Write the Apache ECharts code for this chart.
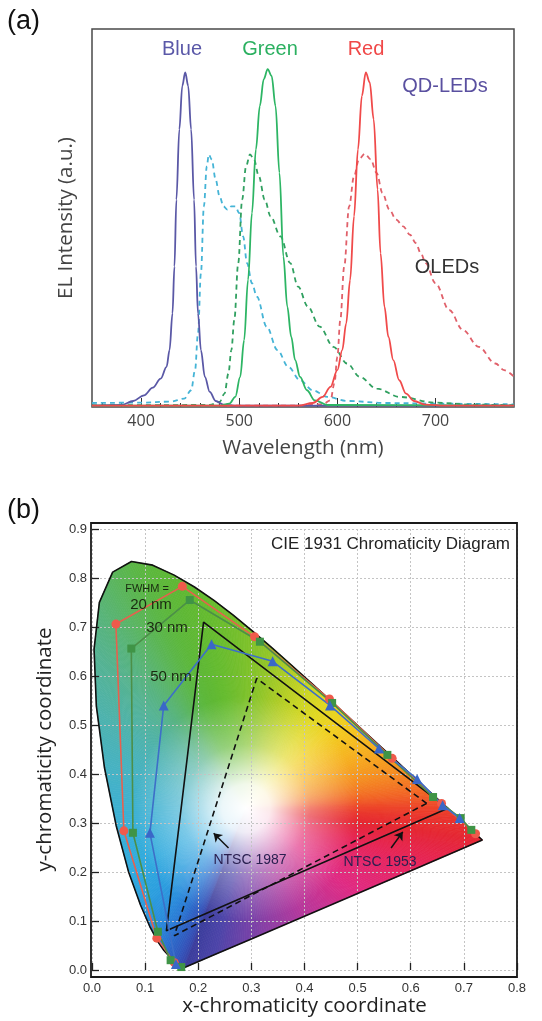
<!DOCTYPE html>
<html>
<head>
<meta charset="utf-8">
<script src="https://cdn.jsdelivr.net/npm/echarts@6/dist/echarts.min.js"></script>
<style>
  html, body { margin: 0; padding: 0; background: #fff; }
  #chart { width: 542px; height: 1021px; }
</style>
</head>
<body>
<div id="chart"></div>
<script>
// (a) EL spectra: [wavelength (nm), intensity (a.u.)]
const qdBlue = [[350,0.004],[380,0.006],[392,0.018],[403,0.035],[412,0.058],[420,0.085],[426,0.12],[429,0.17],[432,0.28],[434,0.42],[436,0.62],[439,0.83],[442,0.96],[445,1.0],[448,0.96],[451,0.83],[454,0.62],[456,0.42],[458,0.28],[461,0.17],[465,0.09],[470,0.045],[476,0.018],[484,0.007],[495,0.004],[780,0.004]];
const qdGreen = [[350,0.004],[480,0.004],[490,0.01],[496,0.03],[501,0.09],[505,0.2],[509,0.38],[513,0.58],[517,0.77],[521,0.9],[525,0.98],[529,1.01],[533,0.99],[537,0.9],[541,0.7],[545,0.45],[549,0.3],[553,0.21],[557,0.14],[562,0.09],[569,0.05],[577,0.02],[590,0.006],[780,0.004]];
const qdRed = [[350,0.004],[560,0.004],[575,0.012],[585,0.03],[593,0.06],[600,0.11],[605,0.17],[609,0.25],[613,0.38],[617,0.57],[621,0.77],[625,0.93],[629,1.0],[633,0.97],[637,0.86],[641,0.65],[644,0.46],[648,0.3],[652,0.21],[657,0.14],[663,0.08],[670,0.04],[678,0.018],[690,0.007],[710,0.004],[780,0.004]];
const oledBlue = [[350,0.012],[400,0.013],[430,0.016],[444,0.025],[451,0.05],[455,0.11],[458,0.22],[461,0.4],[464,0.6],[467,0.72],[469,0.755],[472,0.74],[476,0.68],[480,0.63],[484,0.6],[488,0.59],[492,0.6],[496,0.6],[500,0.58],[504,0.51],[508,0.43],[513,0.37],[518,0.33],[528,0.24],[539,0.17],[550,0.12],[562,0.08],[575,0.05],[590,0.03],[610,0.018],[650,0.012],[700,0.01],[780,0.008]];
const oledGreen = [[350,0.005],[470,0.006],[480,0.015],[485,0.04],[489,0.1],[492,0.17],[495,0.26],[499,0.43],[503,0.62],[507,0.72],[511,0.755],[515,0.74],[520,0.69],[526,0.62],[532,0.57],[542,0.51],[552,0.43],[560,0.36],[570,0.3],[582,0.24],[596,0.18],[610,0.13],[623,0.09],[640,0.055],[664,0.03],[700,0.013],[740,0.007],[780,0.005]];
const oledRed = [[350,0.004],[560,0.004],[585,0.008],[593,0.02],[597,0.07],[600,0.15],[603,0.26],[607,0.42],[612,0.6],[617,0.69],[622,0.74],[628,0.757],[634,0.74],[640,0.7],[646,0.64],[653,0.59],[660,0.56],[667,0.54],[674,0.515],[680,0.49],[685,0.46],[690,0.43],[700,0.37],[714,0.29],[728,0.23],[744,0.18],[761,0.13],[770,0.11],[780,0.09]];
const wavelengthLabels = [400, 500, 600, 700];
const wavelengthTicks = [360, 380, 420, 440, 460, 480, 520, 540, 560, 580, 620, 640, 660, 680, 720, 740, 760];

// (b) CIE 1931 chromaticity: [x, y]
const spectralLocus = [[0.1741,0.0050],[0.1714,0.0051],[0.1644,0.0109],[0.1566,0.0177],[0.1440,0.0297],[0.1355,0.0399],[0.1241,0.0578],[0.1096,0.0868],[0.0913,0.1327],[0.0687,0.2007],[0.0454,0.2950],[0.0235,0.4127],[0.0082,0.5384],[0.0039,0.6548],[0.0139,0.7502],[0.0389,0.8120],[0.0743,0.8338],[0.1142,0.8262],[0.1547,0.8059],[0.1929,0.7816],[0.2296,0.7543],[0.2658,0.7243],[0.3016,0.6923],[0.3373,0.6589],[0.3731,0.6245],[0.4087,0.5896],[0.4441,0.5547],[0.4788,0.5202],[0.5125,0.4866],[0.5448,0.4544],[0.5752,0.4242],[0.6029,0.3965],[0.6270,0.3725],[0.6482,0.3514],[0.6658,0.3340],[0.6915,0.3083],[0.7190,0.2809],[0.7347,0.2653],[0.62,0.2116],[0.50,0.1563],[0.40,0.1099],[0.30,0.0634],[0.23,0.031]];
const whitePoint = [0.29, 0.33];
const ntsc1953 = [[0.67,0.33],[0.21,0.71],[0.14,0.08],[0.67,0.33]];
const ntsc1987 = [[0.63,0.34],[0.31,0.595],[0.155,0.07],[0.63,0.34]];
const fwhm20 = [[0.155,0.015],[0.122,0.065],[0.06,0.284],[0.045,0.706],[0.17,0.783],[0.306,0.68],[0.447,0.553],[0.565,0.432],[0.658,0.34],[0.722,0.278]];
const fwhm30 = [[0.168,0.006],[0.148,0.02],[0.124,0.078],[0.077,0.28],[0.074,0.656],[0.184,0.755],[0.316,0.67],[0.452,0.545],[0.556,0.439],[0.642,0.353],[0.694,0.31],[0.714,0.286]];
const fwhm50 = [[0.158,0.012],[0.109,0.28],[0.135,0.54],[0.225,0.665],[0.34,0.63],[0.448,0.54],[0.54,0.452],[0.612,0.39],[0.66,0.336],[0.692,0.31]];

// colour shown along the locus edge (fill styling only)
const locusColors = ['#3a3c9c','#3944a6','#354eb4','#3158bd','#2d64c6','#2b70ce','#2a7ed6','#2a8edc','#2b9ede','#30aade','#3bb0d6','#46b2c4','#4eb2aa','#54b290','#58b474','#5ab55a','#5bb646','#5cb73a','#5eb834','#62ba30','#68bc2e','#72be2c','#80c22a','#94c628','#aecc26','#c8d424','#e0d822','#f0d020','#f5bf20','#f6ac20','#f59820','#f48422','#f26e24','#f05a26','#ed4628','#e9342c','#e62a30','#e52632','#e6245a','#e02a82','#b6389c','#7842a8','#4c44a8'];

const chart = echarts.init(document.getElementById('chart'));

const sans = '"Liberation Sans", Arial, sans-serif';
const myriad = '"Open Sans", sans-serif';

const txt = (text, x, y, size, color, align, font) => ({
  type: 'text', x: x, y: y, z: 100,
  style: { text: text, fill: color, fontSize: size, fontFamily: font || sans,
           align: align || 'center', verticalAlign: 'middle' }
});

const specLine = (data, color, dashed) => ({
  type: 'line', xAxisIndex: 0, yAxisIndex: 0, data: data,
  showSymbol: false, smooth: 0.35, smoothMonotone: 'x',
  lineStyle: { color: color, width: 1.8, type: dashed ? [5, 4] : 'solid' },
  z: dashed ? 3 : 4
});

chart.setOption({
  animation: false,
  grid: [
    { left: 92, top: 29, width: 422, height: 378, show: true, borderColor: '#4a4a4a', borderWidth: 1.5 },
    { left: 92, top: 529, width: 425, height: 441 },
    { left: 91, top: 523, width: 426, height: 454, show: true, borderColor: '#1a1a1a', borderWidth: 1.8, z: 10 }
  ],
  xAxis: [
    {
      gridIndex: 0, type: 'value', min: 350, max: 780,
      axisLine: { show: false },
      axisTick: { show: true, inside: true, length: 4, customValues: wavelengthTicks, lineStyle: { color: '#333' } },
      axisLabel: { show: false },
      splitLine: { show: false }
    },
    {
      gridIndex: 0, type: 'value', min: 350, max: 780, position: 'bottom',
      axisLine: { show: false },
      axisTick: { show: true, inside: true, length: 9, customValues: wavelengthLabels, lineStyle: { color: '#333' } },
      axisLabel: { show: true, customValues: wavelengthLabels, color: '#444', fontSize: 16, fontFamily: myriad, margin: 6 },
      splitLine: { show: false },
      name: 'Wavelength (nm)', nameLocation: 'middle', nameGap: 31,
      nameTextStyle: { color: '#444', fontSize: 20.5, fontFamily: myriad }
    },
    {
      gridIndex: 1, type: 'value', min: 0, max: 0.8, interval: 0.1, offset: 7,
      axisLine: { show: false },
      axisTick: { show: true, inside: true, length: 7, lineStyle: { color: '#222', width: 1.3 } },
      axisLabel: { color: '#333', fontSize: 13, fontFamily: sans, margin: 5, formatter: v => v.toFixed(1) },
      splitLine: { show: true, lineStyle: { color: '#c4c4c4', type: [2, 2], width: 1 } },
      name: 'x-chromaticity coordinate', nameLocation: 'middle', nameGap: 18,
      nameTextStyle: { color: '#222', fontSize: 20.5, fontFamily: myriad }
    },
    { gridIndex: 2, type: 'value', show: false, min: 0, max: 1 }
  ],
  yAxis: [
    {
      gridIndex: 0, type: 'value', min: 0, max: 1.13,
      axisLine: { show: false }, axisTick: { show: false }, axisLabel: { show: false },
      splitLine: { show: false },
      name: 'EL Intensity (a.u.)', nameLocation: 'middle', nameGap: 15, nameRotate: 90,
      nameTextStyle: { color: '#444', fontSize: 20.5, fontFamily: myriad }
    },
    {
      gridIndex: 1, type: 'value', min: 0, max: 0.9, interval: 0.1,
      axisLine: { show: false },
      axisTick: { show: true, inside: true, length: 7, lineStyle: { color: '#222', width: 1.3 } },
      axisLabel: { color: '#333', fontSize: 13, fontFamily: sans, margin: 5, formatter: v => v.toFixed(1) },
      splitLine: { show: true, lineStyle: { color: '#c4c4c4', type: [2, 2], width: 1 } },
      name: 'y-chromaticity coordinate', nameLocation: 'middle', nameGap: 36, nameRotate: 90,
      nameTextStyle: { color: '#222', fontSize: 20.5, fontFamily: myriad }
    },
    { gridIndex: 2, type: 'value', show: false, min: 0, max: 1 }
  ],
  series: [
    specLine(oledBlue, '#45b4d6', true),
    specLine(oledGreen, '#30a060', true),
    specLine(oledRed, '#e0606a', true),
    specLine(qdBlue, '#5a58a6', false),
    specLine(qdGreen, '#2db564', false),
    specLine(qdRed, '#f04a4a', false),

    // CIE colour fill: each locus segment shaded as a fan from the white point,
    // split into thin slivers so the colour turns smoothly around the centre.
    // Kept below the axes so the dotted grid shows through.
    {
      type: 'custom', xAxisIndex: 2, yAxisIndex: 1, data: spectralLocus, z: -2,
      renderItem: function (params, api) {
        const i = params.dataIndex;
        const j = (i + 1) % spectralLocus.length;
        const p0 = api.coord(spectralLocus[i]), p1 = api.coord(spectralLocus[j]), c = api.coord(whitePoint);
        const steps = Math.max(1, Math.ceil(Math.hypot(p1[0] - p0[0], p1[1] - p0[1]) / 2.5));
        const children = [];
        for (let k = 0; k < steps; k++) {
          const a = k / steps, b = (k + 1) / steps;
          const qa = [p0[0] + (p1[0] - p0[0]) * a, p0[1] + (p1[1] - p0[1]) * a];
          const qb = [p0[0] + (p1[0] - p0[0]) * b, p0[1] + (p1[1] - p0[1]) * b];
          const col = echarts.color.lerp((k + 0.5) / steps, [locusColors[i], locusColors[j]]);
          children.push({ type: 'polygon', shape: { points: [c, qa, qb] }, style: { fill: col, stroke: col, lineWidth: 0.8 } });
        }
        return { type: 'group', children: children };
      }
    },
    // whitish centre of the diagram
    {
      type: 'custom', xAxisIndex: 2, yAxisIndex: 1, data: [whitePoint], z: -1,
      renderItem: function (params, api) {
        const c = api.coord(whitePoint);
        const pts = spectralLocus.map(p => api.coord(p));
        const glow = new echarts.graphic.RadialGradient(c[0], c[1], 160, [
          { offset: 0, color: 'rgba(255,255,255,1)' },
          { offset: 0.15, color: 'rgba(255,255,255,0.9)' },
          { offset: 0.4, color: 'rgba(255,255,255,0.35)' },
          { offset: 0.7, color: 'rgba(255,255,255,0)' }
        ], true);
        return { type: 'polygon', shape: { points: pts }, style: { fill: glow } };
      }
    },
    {
      type: 'line', xAxisIndex: 2, yAxisIndex: 1, data: spectralLocus.concat([spectralLocus[0]]),
      showSymbol: false, lineStyle: { color: '#111', width: 1.6 }, z: 3
    },
    {
      type: 'line', xAxisIndex: 2, yAxisIndex: 1, data: ntsc1953,
      showSymbol: false, lineStyle: { color: '#111', width: 1.6 }, z: 4,
      markLine: {
        silent: true, symbol: ['none', 'arrow'], symbolSize: 8,
        lineStyle: { color: '#111', width: 1.5, type: 'solid' }, label: { show: false },
        data: [
          [{ coord: [0.563, 0.249] }, { coord: [0.585, 0.282] }],
          [{ coord: [0.257, 0.249] }, { coord: [0.229, 0.279] }]
        ]
      }
    },
    {
      type: 'line', xAxisIndex: 2, yAxisIndex: 1, data: ntsc1987,
      showSymbol: false, lineStyle: { color: '#111', width: 1.6, type: [6, 4] }, z: 4
    },
    {
      type: 'line', xAxisIndex: 2, yAxisIndex: 1, data: fwhm20, z: 6,
      symbol: 'circle', symbolSize: 9, showAllSymbol: true,
      itemStyle: { color: '#ef5a4b' }, lineStyle: { color: '#e8604e', width: 1.6 }
    },
    {
      type: 'line', xAxisIndex: 2, yAxisIndex: 1, data: fwhm30, z: 6,
      symbol: 'rect', symbolSize: 8, showAllSymbol: true,
      itemStyle: { color: '#3f9446' }, lineStyle: { color: '#4c8f48', width: 1.6 }
    },
    {
      type: 'line', xAxisIndex: 2, yAxisIndex: 1, data: fwhm50, z: 6,
      symbol: 'triangle', symbolSize: 10, showAllSymbol: true,
      itemStyle: { color: '#3a67c8' }, lineStyle: { color: '#3d6fc8', width: 1.6 }
    }
  ],
  graphic: [
    txt('(a)', 7, 22, 27, '#111', 'left'),
    txt('Blue', 182, 49, 20, '#5a58a8'),
    txt('Green', 270, 49, 20, '#2bb060'),
    txt('Red', 366, 49, 20, '#f04848'),
    txt('QD-LEDs', 445, 86, 20, '#5a50a0'),
    txt('OLEDs', 447, 267, 20, '#333'),
    txt('(b)', 7, 511, 27, '#111', 'left'),
    txt('CIE 1931 Chromaticity Diagram', 510, 544, 17, '#222', 'right'),
    txt('FWHM =', 147, 589, 11, '#1a2a10'),
    txt('20 nm', 151, 605, 15, '#1a2a10'),
    txt('30 nm', 167, 628, 15, '#1a2a10'),
    txt('50 nm', 171, 677, 15, '#1a2a10'),
    txt('NTSC 1987', 250, 860, 14, '#2a2050'),
    txt('NTSC 1953', 380, 862, 14, '#2a2050')
  ]
});
</script>
</body>
</html>
